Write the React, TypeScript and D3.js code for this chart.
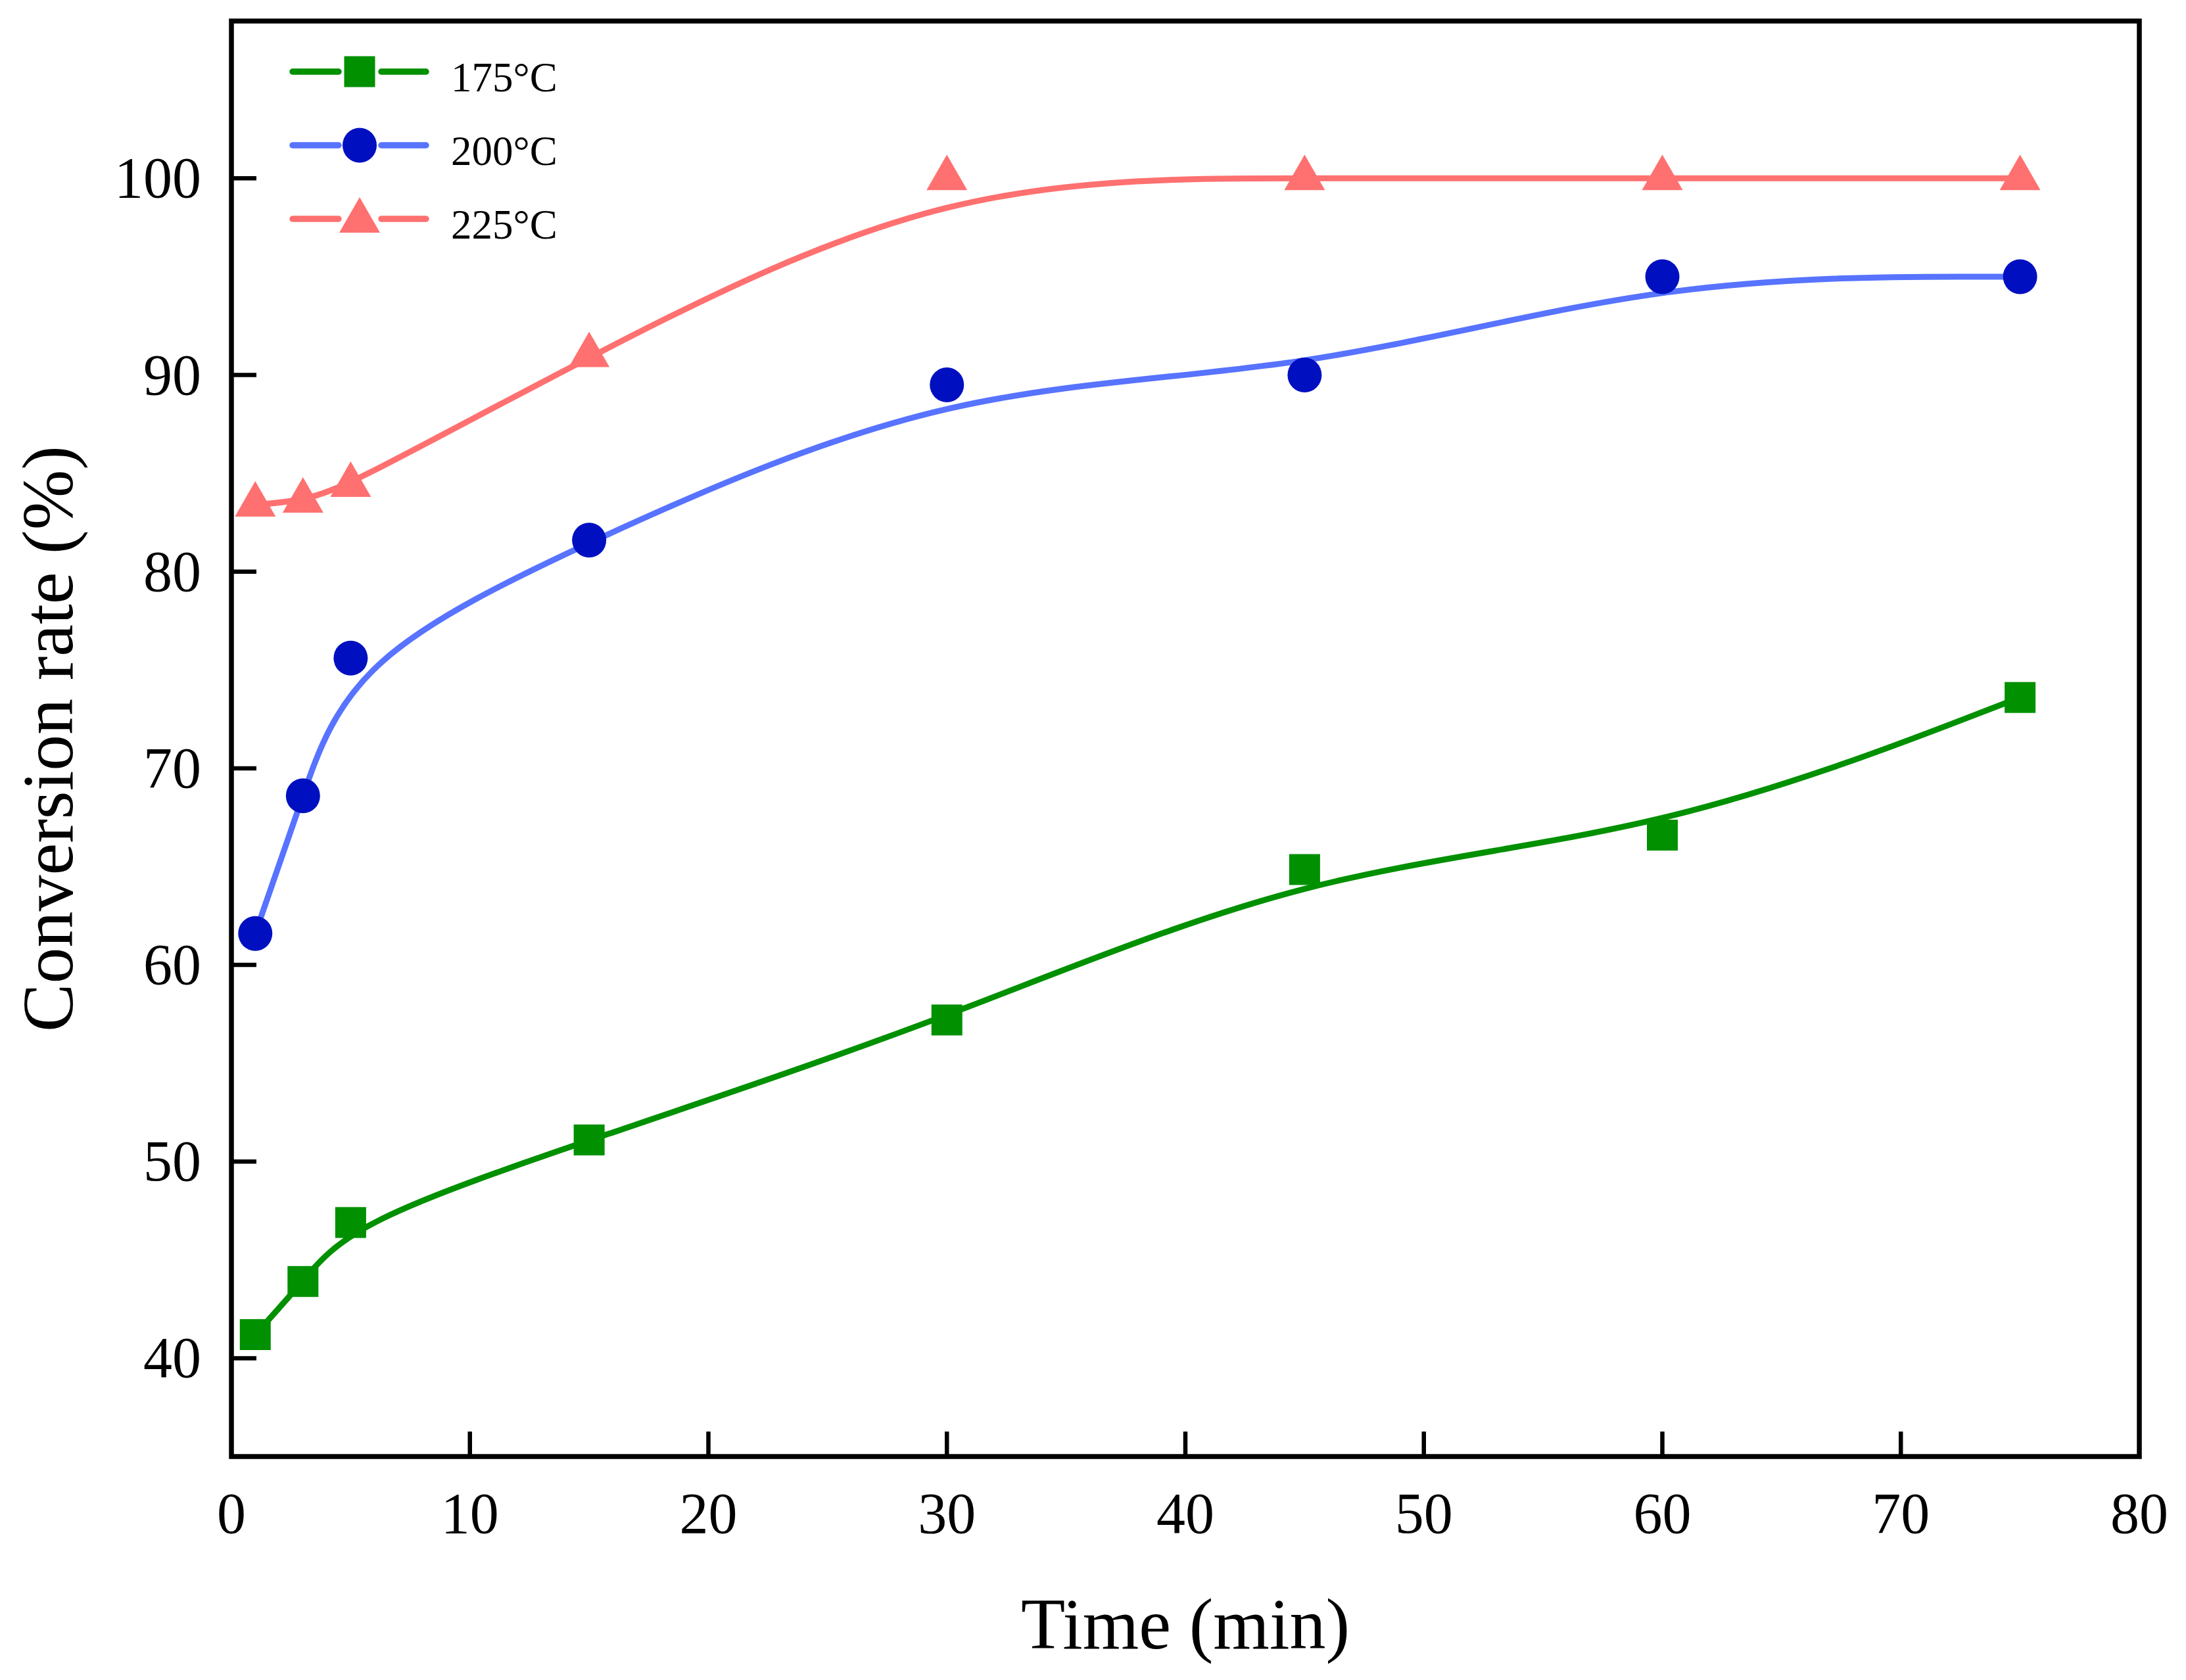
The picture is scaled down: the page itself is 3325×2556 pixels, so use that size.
import * as d3 from "d3";

// sampling times (min)
const times = [1, 3, 5, 15, 30, 45, 60, 75];

// conversion rate (%) per temperature
const conv175 = [41.2, 43.9, 46.9, 51.1, 57.2, 64.85, 66.6, 73.6];
const conv200 = [61.6, 68.6, 75.6, 81.6, 89.5, 90.0, 95.0, 95.0];
const conv225 = [83.4, 83.6, 84.4, 91.0, 100, 100, 100, 100];

const seriesNames = ["175°C", "200°C", "225°C"];
const xTicks = [0, 10, 20, 30, 40, 50, 60, 70, 80];
const yTicks = [40, 50, 60, 70, 80, 90, 100];

const W = 3325;
const H = 2556;
const FONT = "'Liberation Serif', 'Times New Roman', serif";

type Shape = "square" | "circle" | "triangle";

const series = [
  { name: seriesNames[0], values: conv175, line: "#009000", marker: "#009000", shape: "square" as Shape },
  { name: seriesNames[1], values: conv200, line: "#5773FF", marker: "#0010C0", shape: "circle" as Shape },
  { name: seriesNames[2], values: conv225, line: "#FF7070", marker: "#FF7070", shape: "triangle" as Shape },
];

function Marker({ shape, cx, cy, fill }: { shape: Shape; cx: number; cy: number; fill: string }) {
  if (shape === "square") {
    const s = 47;
    return <rect x={cx - s / 2} y={cy - s / 2} width={s} height={s} fill={fill} />;
  }
  if (shape === "circle") {
    return <ellipse cx={cx} cy={cy} rx={26} ry={26.5} fill={fill} />;
  }
  // triangle centred on its centroid
  const hw = 31;
  return (
    <path
      d={`M${cx},${cy - 36} L${cx + hw},${cy + 18} L${cx - hw},${cy + 18} Z`}
      fill={fill}
    />
  );
}

export default function App() {
  const margin = { left: 352, right: W - 3254, top: 32, bottom: H - 2216 };
  const x = d3.scaleLinear().domain([0, 80]).range([margin.left, W - margin.right]);
  const y = d3.scaleLinear().domain([35, 108]).range([H - margin.bottom, margin.top]);

  const line = d3
    .line<number>()
    .x((_, i) => x(times[i]))
    .y((d) => y(d))
    .curve(d3.curveBasis);

  const tickLen = 38;
  const tickFont = 88;
  const x0 = x.range()[0];
  const x1 = x.range()[1];
  const y0 = y.range()[0];
  const y1 = y.range()[1];

  return (
    <svg
      width={W}
      height={H}
      style={{ position: "absolute", left: 0, top: 0, background: "#fff" }}
      fontFamily={FONT}
    >
      <rect x={0} y={0} width={W} height={H} fill="#fff" />

      {/* series curves and markers */}
      {series.map((s) => (
        <g key={s.name}>
          <path d={line(s.values) || ""} fill="none" stroke={s.line} strokeWidth={9} strokeLinejoin="round" />
          {s.values.map((v, i) => (
            <Marker key={i} shape={s.shape} cx={x(times[i])} cy={y(v)} fill={s.marker} />
          ))}
        </g>
      ))}

      {/* frame */}
      <rect x={x0} y={y1} width={x1 - x0} height={y0 - y1} fill="none" stroke="#000" strokeWidth={7.5} />

      {/* x ticks */}
      {xTicks.map((t) => (
        <g key={`x${t}`}>
          {t > 0 && t < 80 && (
            <line x1={x(t)} x2={x(t)} y1={y0} y2={y0 - tickLen} stroke="#000" strokeWidth={6.5} />
          )}
          <text x={x(t)} y={2332} textAnchor="middle" fontSize={tickFont}>
            {t}
          </text>
        </g>
      ))}

      {/* y ticks */}
      {yTicks.map((t) => (
        <g key={`y${t}`}>
          <line x1={x0} x2={x0 + tickLen} y1={y(t)} y2={y(t)} stroke="#000" strokeWidth={6.5} />
          <text x={306} y={y(t) + 29} textAnchor="end" fontSize={tickFont}>
            {t}
          </text>
        </g>
      ))}

      {/* axis titles */}
      <text x={(x0 + x1) / 2} y={2508} textAnchor="middle" fontSize={110}>
        Time (min)
      </text>
      <text
        transform={`translate(110,${(y0 + y1) / 2}) rotate(-90)`}
        textAnchor="middle"
        fontSize={110}
      >
        Conversion rate (%)
      </text>

      {/* legend */}
      {series.map((s, i) => {
        const cy = 109 + i * 112;
        return (
          <g key={`lg${s.name}`}>
            <line x1={445} x2={515} y1={cy} y2={cy} stroke={s.line} strokeWidth={9.5} strokeLinecap="round" />
            <line x1={580} x2={648} y1={cy} y2={cy} stroke={s.line} strokeWidth={9.5} strokeLinecap="round" />
            <Marker shape={s.shape} cx={547} cy={s.shape === "triangle" ? cy + 3 : cy} fill={s.marker} />
            <text x={686} y={cy + 30} fontSize={63}>
              {s.name}
            </text>
          </g>
        );
      })}
    </svg>
  );
}
